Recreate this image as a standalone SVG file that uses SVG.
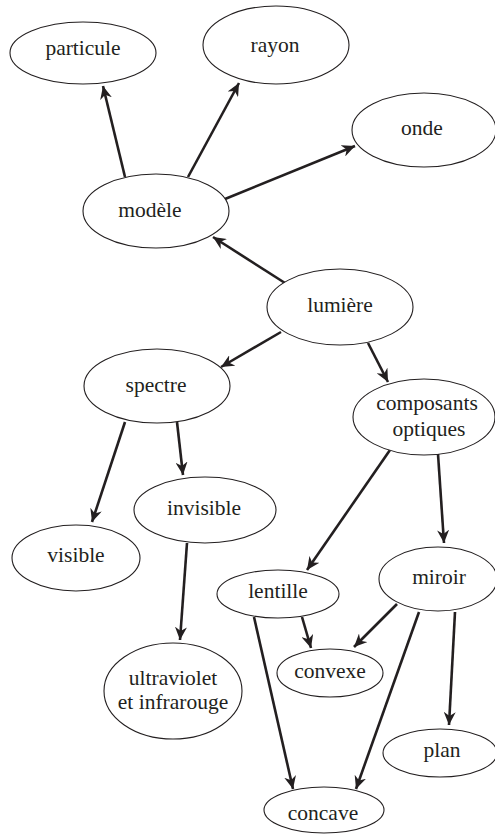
<svg xmlns="http://www.w3.org/2000/svg" width="495" height="834" viewBox="0 0 495 834">
<style>
.n ellipse{fill:#fff;stroke:#231f20;stroke-width:1.1}
.n text{font-family:'Liberation Serif','DejaVu Serif','Times New Roman',serif;font-size:21.5px;fill:#231f20;text-anchor:middle}
.e path{fill:none;stroke:#231f20;stroke-width:2.6;marker-end:url(#ah)}
</style>
<defs>
<marker id="ah" markerUnits="userSpaceOnUse" markerWidth="14" markerHeight="12" refX="13" refY="6" orient="auto" viewBox="0 0 14 12">
<path d="M0,0 L13,6 L0,12 L4,6 Z" fill="#231f20"/>
</marker>
</defs>
<rect width="495" height="834" fill="#fff"/>
<g id="connectors" class="e">
<path d="M125,177 L103,86"/>
<path d="M188,177 L239,83"/>
<path d="M225,199 L355,146"/>
<path d="M285,283 L213,237"/>
<path d="M281,332 L221,367"/>
<path d="M368,343 L388,382"/>
<path d="M125,422 L92,522"/>
<path d="M177,422 L183,475"/>
<path d="M390,450 L307,570"/>
<path d="M438,454 L444,543"/>
<path d="M187,543 L180,640"/>
<path d="M302,617 L311,648"/>
<path d="M254,617 L293,789"/>
<path d="M397,604 L354,647"/>
<path d="M419,612 L356,789"/>
<path d="M455,612 L449,725"/>
</g>
<g font-family="Liberation Serif, serif">
<g id="particule" class="n"><ellipse cx="83" cy="53" rx="73" ry="31"/><text x="83" y="55">particule</text></g>
<g id="rayon" class="n"><ellipse cx="276" cy="45" rx="73" ry="39"/><text x="275" y="52">rayon</text></g>
<g id="onde" class="n"><ellipse cx="424" cy="130" rx="72" ry="37"/><text x="422" y="135">onde</text></g>
<g id="modele" class="n"><ellipse cx="156" cy="211" rx="73" ry="37"/><text x="150" y="217">modèle</text></g>
<g id="lumiere" class="n"><ellipse cx="340" cy="307" rx="73" ry="38"/><text x="340" y="312">lumière</text></g>
<g id="spectre" class="n"><ellipse cx="157" cy="386" rx="73" ry="37"/><text x="156" y="392">spectre</text></g>
<g id="composants" class="n"><ellipse cx="424" cy="417" rx="71" ry="38"/><text x="427" y="410">composants</text><text x="429" y="436">optiques</text></g>
<g id="invisible" class="n"><ellipse cx="205" cy="510" rx="71" ry="33"/><text x="204" y="515">invisible</text></g>
<g id="visible" class="n"><ellipse cx="76" cy="558" rx="64" ry="33"/><text x="76" y="562">visible</text></g>
<g id="lentille" class="n"><ellipse cx="278" cy="594" rx="61" ry="24"/><text x="278" y="598">lentille</text></g>
<g id="miroir" class="n"><ellipse cx="438" cy="579" rx="59" ry="32"/><text x="439" y="584">miroir</text></g>
<g id="convexe" class="n"><ellipse cx="330" cy="673" rx="53" ry="24"/><text x="330" y="678">convexe</text></g>
<g id="ultraviolet" class="n"><ellipse cx="173" cy="691" rx="69" ry="48"/><text x="173" y="685">ultraviolet</text><text x="173" y="709">et infrarouge</text></g>
<g id="plan" class="n"><ellipse cx="440" cy="753" rx="57" ry="24"/><text x="442" y="757">plan</text></g>
<g id="concave" class="n"><ellipse cx="324" cy="810" rx="60" ry="23"/><text x="323" y="820">concave</text></g>
</g>
</svg>
